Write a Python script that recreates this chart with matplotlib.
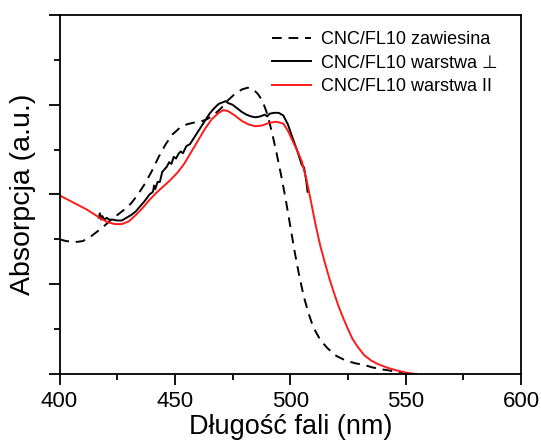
import numpy as np
import matplotlib.pyplot as plt
from matplotlib.ticker import MultipleLocator

plt.rcParams['font.family'] = ['Liberation Sans', 'DejaVu Sans']

# CNC/FL10 zawiesina (dashed)
wl_susp = [400, 403, 407, 410, 413, 416, 419, 422, 425, 428, 431, 434, 437, 440, 443,
           446, 449, 452, 455, 458, 461, 464, 467, 470, 473, 476, 479, 481.5, 484, 486,
           488, 490, 492, 494, 496, 498, 500, 502, 504, 506, 508, 510, 513, 516, 520,
           524, 528, 532, 536, 540, 545, 550, 555]
abs_susp = [1.50, 1.48, 1.47, 1.48, 1.52, 1.58, 1.64, 1.71, 1.77, 1.83, 1.90, 2.00, 2.12,
            2.26, 2.42, 2.56, 2.67, 2.74, 2.78, 2.80, 2.81, 2.84, 2.89, 2.96, 3.05, 3.12,
            3.17, 3.19, 3.17, 3.12, 3.04, 2.90, 2.70, 2.47, 2.22, 1.95, 1.65, 1.35, 1.08,
            0.85, 0.67, 0.52, 0.38, 0.29, 0.20, 0.15, 0.12, 0.10, 0.07, 0.05, 0.03, 0.01,
            0.0]

# CNC/FL10 warstwa ⊥ (black, noisy)
wl_perp = [417.0, 417.5, 418.0, 418.5, 419.5, 420.5, 421.5, 423, 425, 427, 429, 431, 433,
           435, 437, 439, 440.5, 441.0, 441.5, 442.5, 443.5, 444.5, 445.5, 446.5, 447.5,
           448.5, 449.5, 450.5, 451.5, 452.5, 453.5, 455, 456.5, 458, 459.5, 461, 463,
           465, 467, 469, 471, 472, 473, 475, 477, 479, 481, 483, 485, 487, 489, 490,
           491, 493, 495, 497, 499, 501, 503, 505, 506, 507, 507.5]
abs_perp = [1.74, 1.79, 1.72, 1.76, 1.72, 1.74, 1.72, 1.72, 1.71, 1.71, 1.74, 1.77, 1.81,
            1.87, 1.93, 2.00, 2.03, 2.10, 2.06, 2.14, 2.14, 2.25, 2.28, 2.31, 2.36, 2.34,
            2.42, 2.40, 2.45, 2.48, 2.46, 2.54, 2.56, 2.62, 2.68, 2.74, 2.82, 2.90, 2.96,
            3.01, 3.03, 3.04, 3.02, 3.00, 2.96, 2.92, 2.89, 2.87, 2.86, 2.87, 2.89, 2.87,
            2.90, 2.91, 2.91, 2.88, 2.78, 2.63, 2.49, 2.33, 2.30, 2.14, 2.03]

# CNC/FL10 warstwa II (red)
wl_par = [400, 403, 406, 409, 412, 415, 418, 421, 424, 427, 430, 433, 436, 439, 442, 445,
          448, 451, 454, 457, 460, 463, 466, 469, 471, 473, 476, 479, 482, 485, 488, 491,
          494, 497, 499, 501, 503, 505, 507, 509, 511, 513, 515, 517, 519, 521, 523, 525,
          527, 529, 532, 535, 538, 542, 546, 550, 554]
abs_par = [1.99, 1.95, 1.91, 1.87, 1.83, 1.78, 1.73, 1.69, 1.67, 1.67, 1.70, 1.77, 1.85,
           1.94, 2.02, 2.09, 2.16, 2.24, 2.34, 2.47, 2.60, 2.73, 2.84, 2.91, 2.94, 2.93,
           2.88, 2.82, 2.78, 2.76, 2.77, 2.80, 2.81, 2.79, 2.71, 2.60, 2.49, 2.37, 2.17,
           1.92, 1.66, 1.43, 1.24, 1.06, 0.90, 0.75, 0.62, 0.50, 0.39, 0.31, 0.21, 0.15,
           0.11, 0.07, 0.04, 0.015, 0.0]

fig = plt.figure(figsize=(5.41, 4.42), dpi=100)
ax = fig.add_axes([0.110, 0.154, 0.853, 0.812])

ax.plot(wl_susp, abs_susp, color='black', lw=1.4, ls=(0, (5, 3.5)), label='CNC/FL10 zawiesina')
ax.plot(wl_perp, abs_perp, color='black', lw=1.4, label='CNC/FL10 warstwa ⊥')
ax.plot(wl_par, abs_par, color='#ff1a1a', lw=1.4, label='CNC/FL10 warstwa II')

ax.set_xlim(400, 600)
ax.set_ylim(0, 4)
ax.xaxis.set_major_locator(MultipleLocator(50))
ax.xaxis.set_minor_locator(MultipleLocator(25))
ax.yaxis.set_major_locator(MultipleLocator(1))
ax.yaxis.set_minor_locator(MultipleLocator(0.5))
ax.set_yticklabels([])
ax.tick_params(which='major', length=8, width=1.3, labelsize=16, direction='out', pad=4)
ax.tick_params(which='minor', length=4.5, width=1.3, direction='out')
for s in ax.spines.values():
    s.set_linewidth(1.3)

ax.set_xlabel('Długość fali (nm)', fontsize=19.5, labelpad=2)
ax.set_ylabel('Absorpcja (a.u.)', fontsize=20.5, labelpad=5)

ax.legend(loc='upper right', frameon=False, fontsize=13, handlelength=2.2,
          handletextpad=0.55, labelspacing=0.35, borderaxespad=0.5,
          bbox_to_anchor=(0.985, 1.0))

fig.savefig('out.png', dpi=100)
